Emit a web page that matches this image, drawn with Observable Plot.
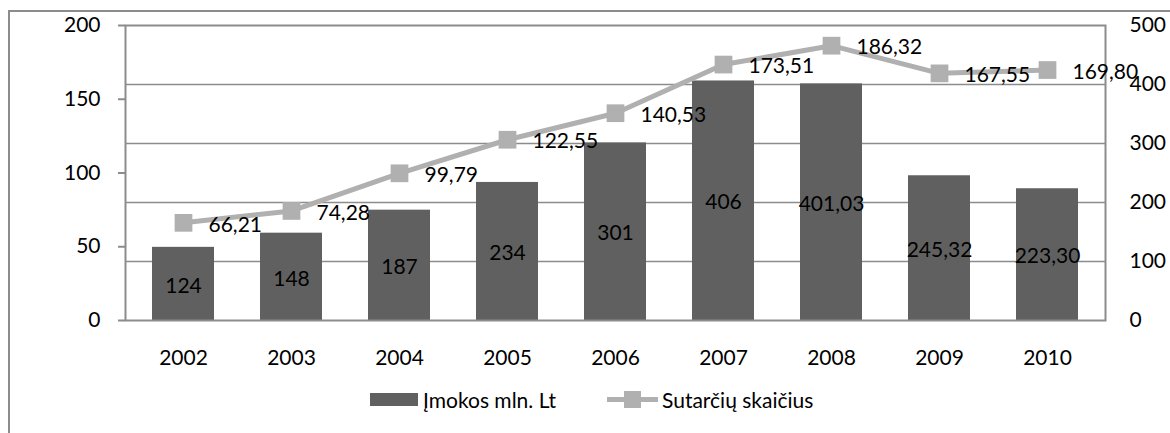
<!DOCTYPE html>
<html>
<head>
<meta charset="utf-8">
<script src="https://cdn.jsdelivr.net/npm/d3@7"></script>
<script src="https://cdn.jsdelivr.net/npm/@observablehq/plot@0.6"></script>
<style>
  html, body { margin: 0; padding: 0; background: #fff; }
  #wrap { position: relative; width: 1170px; height: 433px; overflow: hidden; font-family: Lato, sans-serif; }
  #frame { position: absolute; left: 8px; top: 10px; width: 1170px; height: 440px; border-left: 2px solid #8c8c8c; border-top: 2px solid #8c8c8c; box-sizing: border-box; }
  #chart { position: absolute; left: 0; top: 0; }
  #legend { position: absolute; left: 0; top: 375px; width: 1170px; height: 58px; font-size: 21px; color: #000; }
  .sw-bar { position: absolute; left: 370px; top: 18px; width: 48px; height: 13px; background: #606060; }
  .lg1 { position: absolute; left: 423px; top: 12px; line-height: 25px; white-space: nowrap; }
  .sw-line { position: absolute; left: 607px; top: 22px; width: 51px; height: 5px; background: #b0b0b0; }
  .sw-sq { position: absolute; left: 624px; top: 16px; width: 17px; height: 17px; background: #b0b0b0; }
  .lg2 { position: absolute; left: 662px; top: 12px; line-height: 25px; white-space: nowrap; }
</style>
</head>
<body>
<div id="wrap">
  <div id="frame"></div>
  <div id="chart"></div>
  <div id="legend">
    <div class="sw-bar"></div><div class="lg1">Įmokos mln. Lt</div>
    <div class="sw-line"></div><div class="sw-sq"></div><div class="lg2">Sutarčių skaičius</div>
  </div>
</div>
<script>
// Data
const years = ["2002","2003","2004","2005","2006","2007","2008","2009","2010"];
const imokos = [124, 148, 187, 234, 301, 406, 401.03, 245.32, 223.30];           // bars (right axis 0–500)
const imokosLabels = ["124","148","187","234","301","406","401,03","245,32","223,30"];
const sutartys = [66.21, 74.28, 99.79, 122.55, 140.53, 173.51, 186.32, 167.55, 169.80]; // line (left axis 0–200)
const sutartysLabels = ["66,21","74,28","99,79","122,55","140,53","173,51","186,32","167,55","169,80"];
const leftTicks = [0, 50, 100, 150, 200];
const rightTicks = [0, 100, 200, 300, 400, 500];

const ratio = 500 / 200; // left axis value -> right-axis scale units
const data = years.map((y, i) => ({
  year: y, imokos: imokos[i], imokosLabel: imokosLabels[i],
  sut: sutartys[i], sutLabel: sutartysLabels[i]
}));

const gray = "#8c8c8c";
const chart = Plot.plot({
  width: 1170,
  height: 375,
  marginLeft: 125,
  marginRight: 65,
  marginTop: 25,
  marginBottom: 55,
  style: { fontFamily: "Lato, sans-serif", fontSize: "21px", color: "#000", background: "transparent" },
  x: { type: "band", domain: years, paddingInner: 0.43, paddingOuter: 0.215, label: null },
  y: { domain: [0, 500], label: null },
  marks: [
    Plot.gridY(rightTicks.filter(d => d > 0 && d < 500), { stroke: gray, strokeOpacity: 1, strokeWidth: 1.5 }),
    Plot.barY(data, { x: "year", y: "imokos", fill: "#606060" }),
    Plot.frame({ stroke: gray, strokeWidth: 2 }),
    Plot.axisY(leftTicks.map(d => d * ratio), {
      anchor: "left", tickSize: 7, tickPadding: 18, stroke: gray, strokeWidth: 2,
      tickFormat: d => String(Math.round(d / ratio)), fill: "#000", fontSize: 21, label: null
    }),
    Plot.axisY(rightTicks, { anchor: "right", tickSize: 0, tickPadding: 24, fill: "#000", fontSize: 21, label: null }),
    Plot.axisX({ tickSize: 0, tickPadding: 30, fill: "#000", fontSize: 21, label: null }),
    Plot.text(data, { x: "year", y: d => d.imokos / 2, text: "imokosLabel", fill: "#000", fontSize: 21, dy: 2 }),
    Plot.line(data, { x: "year", y: d => d.sut * ratio, stroke: "#b0b0b0", strokeWidth: 5 }),
    Plot.dot(data, { x: "year", y: d => d.sut * ratio, symbol: "square", r: 10, fill: "#b0b0b0", stroke: "none" }),
    Plot.text(data, { x: "year", y: d => d.sut * ratio, text: "sutLabel", textAnchor: "start", dx: 25, dy: 2, fill: "#000", fontSize: 21 })
  ]
});
document.getElementById("chart").appendChild(chart);
</script>
</body>
</html>
